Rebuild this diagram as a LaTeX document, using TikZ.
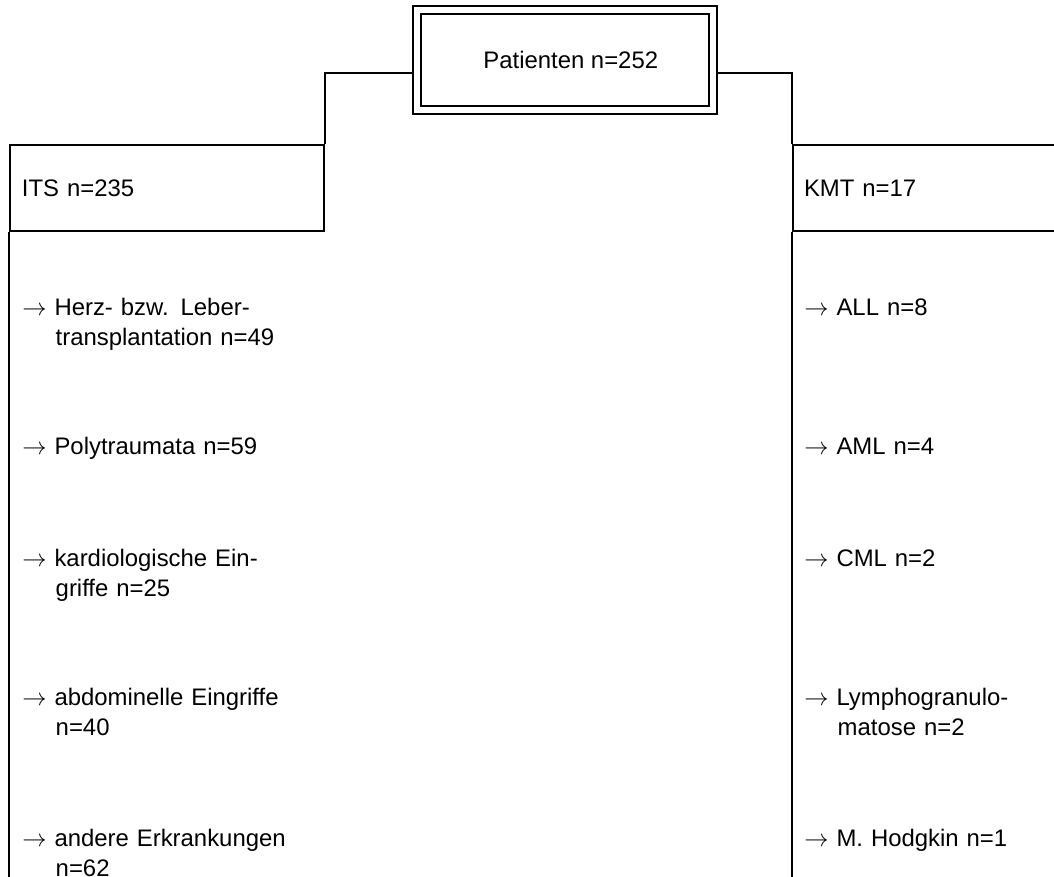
\documentclass[tikz,border=0pt]{standalone}
\usepackage{fontspec}
\setmainfont{Liberation Sans}
\usepackage{tikz}
\pgfdeclarelayer{edgelayer}
\pgfdeclarelayer{nodelayer}
\pgfsetlayers{edgelayer,nodelayer,main}
\tikzstyle{none}=[inner sep=0pt]
\tikzstyle{root}=[draw, line width=0.05cm, double, double distance=0.15cm, minimum width=7.39cm, minimum height=2.51cm, inner sep=0pt]
\tikzstyle{group}=[draw, line width=0.05cm, minimum height=2.15cm, inner xsep=0.3cm, inner ysep=0pt, align=left]
\tikzstyle{item}=[inner sep=0pt, anchor=base west, text width=8cm, align=left]
\tikzstyle{line}=[line width=0.05cm]
\newcommand{\itemarrow}{$\rightarrow$ }
\newcommand{\subline}{\hspace*{1.4em}}

\begin{document}
\begin{tikzpicture}[font=\fontsize{17}{21.3}\selectfont]
	\useasboundingbox (-13.175, -10.95) rectangle (13.175, 10.95);
	\begin{pgfonlayer}{nodelayer}
		\node [style=root] (0) at (0.944, 9.444) {\hspace*{0.3cm}Patienten n=252};
		\node [style=group, text width=7.25cm] (1) at (-9, 6.25) {ITS n=235};
		\node [style=group, text width=7.125cm, inner xsep=0.275cm] (2) at (10.4875, 6.25) {KMT n=17};
		\node [style=item] (3) at (-12.625, 3.0625) {\itemarrow Herz- bzw. Leber-\\\subline transplantation n=49};
		\node [style=item] (4) at (-12.625, -0.4125) {\itemarrow Polytraumata n=59};
		\node [style=item] (5) at (-12.625, -3.2125) {\itemarrow kardiologische Ein-\\\subline griffe n=25};
		\node [style=item] (6) at (-12.625, -6.6875) {\itemarrow abdominelle Eingriffe\\\subline n=40};
		\node [style=item] (7) at (-12.625, -10.2125) {\itemarrow andere Erkrankungen\\\subline n=62};
		\node [style=item] (8) at (6.925, 3.0625) {\itemarrow ALL n=8};
		\node [style=item] (9) at (6.925, -0.4125) {\itemarrow AML n=4};
		\node [style=item] (10) at (6.925, -3.2125) {\itemarrow CML n=2};
		\node [style=item] (11) at (6.925, -6.6875) {\itemarrow Lymphogranulo-\\\subline matose n=2};
		\node [style=item] (12) at (6.925, -10.2125) {\itemarrow M. Hodgkin n=1};
		\coordinate (13) at (0, 9.125);
		\coordinate (14) at (0, -11.1);
	\end{pgfonlayer}
	\begin{pgfonlayer}{edgelayer}
		\draw [style=line] (0.west |- 13) -| (1.north east);
		\draw [style=line] (0.east |- 13) -| (2.north west);
		\draw [style=line] (1.south west) -- (1.south west |- 14);
		\draw [style=line] (2.south west) -- (2.south west |- 14);
	\end{pgfonlayer}
\end{tikzpicture}
\end{document}
